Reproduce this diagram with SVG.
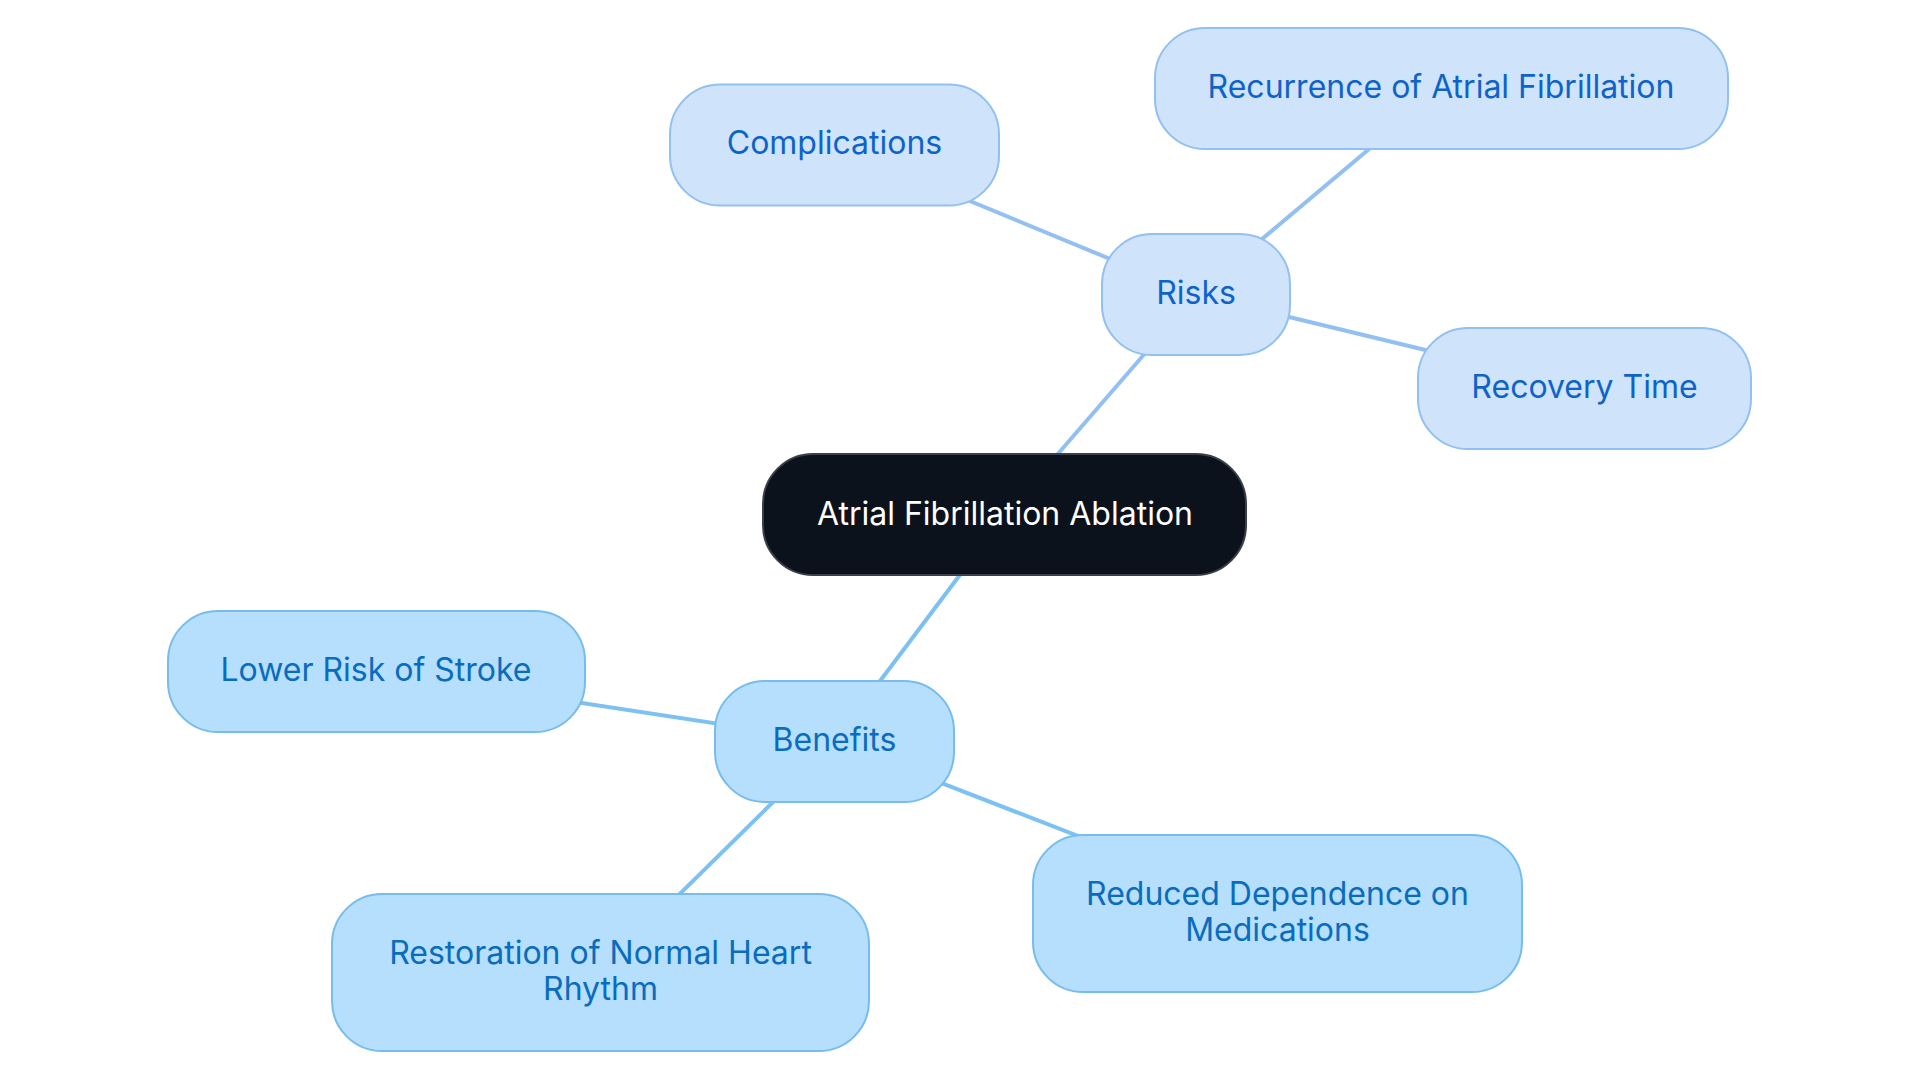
<svg xmlns="http://www.w3.org/2000/svg" width="1920" height="1083" viewBox="0 0 1920 1083">
<style>
text{font-family:Inter,"Noto Sans","Liberation Sans",sans-serif;font-size:32px;font-weight:400;text-anchor:middle;dominant-baseline:central}
.risk rect{fill:#cfe3fb;stroke:#92c0f0;stroke-width:2}
.risk text{fill:#0e63c9}
.ben rect{fill:#b5dffc;stroke:#78bcee;stroke-width:2}
.ben text{fill:#0a6cbd}
.root rect{fill:#0c121c;stroke:#3b4048;stroke-width:2}
.root text{fill:#ffffff}
.c-risk{stroke:#92c0f0;stroke-width:4}
.c-ben{stroke:#7dc0f2;stroke-width:4}
</style>
<rect width="1920" height="1083" fill="#ffffff"/>
<g id="connectors">
<line class="c-risk" x1="1005" y1="515" x2="1196" y2="294.5"/>
<line class="c-risk" x1="1196" y1="294.5" x2="834.5" y2="145"/>
<line class="c-risk" x1="1196" y1="294.5" x2="1441" y2="88.5"/>
<line class="c-risk" x1="1196" y1="294.5" x2="1584.5" y2="388.5"/>
<line class="c-ben" x1="1005" y1="515" x2="834.5" y2="741.5"/>
<line class="c-ben" x1="834.5" y1="741.5" x2="376" y2="671.5"/>
<line class="c-ben" x1="834.5" y1="741.5" x2="600.5" y2="972"/>
<line class="c-ben" x1="834.5" y1="741.5" x2="1277.5" y2="913.5"/>
</g>
<g id="root" class="root">
<rect x="763" y="454" width="483" height="121" rx="50"/>
<text x="1005" y="513">Atrial Fibrillation Ablation</text>
</g>
<g id="risks" class="risk">
<rect x="1102" y="234" width="188" height="121" rx="50"/>
<text x="1196" y="292">Risks</text>
</g>
<g id="complications" class="risk">
<rect x="670" y="84.5" width="329" height="121" rx="50"/>
<text x="834.5" y="142">Complications</text>
</g>
<g id="recurrence" class="risk">
<rect x="1155" y="28" width="573" height="121" rx="50"/>
<text x="1441" y="86">Recurrence of Atrial Fibrillation</text>
</g>
<g id="recovery" class="risk">
<rect x="1418" y="328" width="333" height="121" rx="50"/>
<text x="1584.5" y="386">Recovery Time</text>
</g>
<g id="benefits" class="ben">
<rect x="715" y="681" width="239" height="121" rx="50"/>
<text x="834.5" y="739">Benefits</text>
</g>
<g id="lower-risk" class="ben">
<rect x="168" y="611" width="417" height="121" rx="50"/>
<text x="376" y="669">Lower Risk of Stroke</text>
</g>
<g id="restoration" class="ben">
<rect x="332" y="894" width="537" height="157" rx="50"/>
<text x="600.5" y="952">Restoration of Normal Heart</text>
<text x="600.5" y="988">Rhythm</text>
</g>
<g id="reduced" class="ben">
<rect x="1033" y="835" width="489" height="157" rx="50"/>
<text x="1277.5" y="893">Reduced Dependence on</text>
<text x="1277.5" y="929">Medications</text>
</g>
</svg>
